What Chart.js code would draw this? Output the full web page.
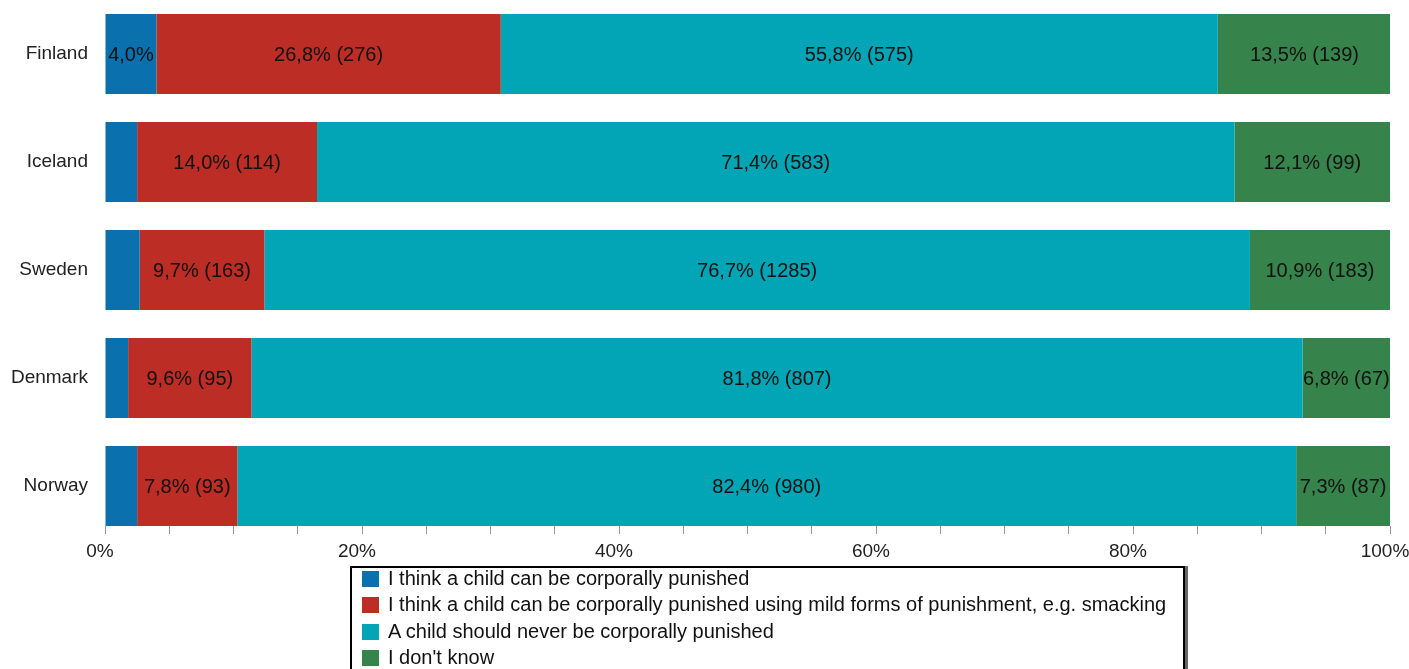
<!DOCTYPE html>
<html>
<head>
<meta charset="utf-8">
<script src="https://cdn.jsdelivr.net/npm/chart.js@4/dist/chart.umd.min.js"></script>
<style>
  body { margin: 0; background: #fff; }
  #wrap { position: relative; width: 1409px; height: 669px; overflow: hidden; }
  #legend {
    position: absolute; left: 350px; top: 566px; width: 835px; height: 120px;
    border: 2px solid #000; box-shadow: 3px 0 0 #666;
    background: #fff; font: 20px "Liberation Sans", Arial, sans-serif; color: #111;
    padding: 0 0 0 10px; box-sizing: border-box;
  }
  #legend div { height: 26.3px; line-height: 20px; white-space: nowrap; }
  #legend span { display: inline-block; width: 17px; height: 16px; margin-right: 9px; vertical-align: -2px; }
</style>
</head>
<body>
<div id="wrap">
  <canvas id="chart" width="1409" height="669"></canvas>
  <div id="legend"></div>
</div>
<script>
const countries = ['Finland', 'Iceland', 'Sweden', 'Denmark', 'Norway'];

// share of answers in %, one array per answer
const canPunish = [4.0, 2.5, 2.7, 1.8, 2.5];
const mildPunish = [26.8, 14.0, 9.7, 9.6, 7.8];
const neverPunish = [55.8, 71.4, 76.7, 81.8, 82.4];
const dontKnow = [13.5, 12.1, 10.9, 6.8, 7.3];

// number of respondents behind each share (null = not printed)
const canPunishN = [null, null, null, null, null];
const mildPunishN = [276, 114, 163, 95, 93];
const neverPunishN = [575, 583, 1285, 807, 980];
const dontKnowN = [139, 99, 183, 67, 87];

const xTicks = [0, 20, 40, 60, 80, 100];

function series(label, values, counts, color) {
    return {
        label: label,
        data: values.map((v, i) => ({ x: v, y: i })),
        counts: counts,
        backgroundColor: color,
        borderWidth: 0,
        barPercentage: 0.74,
        categoryPercentage: 1
    };
}

// prints "26,8% (276)" in the middle of each bar, skips bars that are too narrow
const barText = {
    id: 'barText',
    afterDatasetsDraw(chart) {
        const ctx = chart.ctx;
        ctx.save();
        ctx.font = '20px "Liberation Sans", Arial, sans-serif';
        ctx.fillStyle = '#111';
        ctx.textAlign = 'center';
        ctx.textBaseline = 'middle';
        chart.data.datasets.forEach((ds, di) => {
            chart.getDatasetMeta(di).data.forEach((bar, i) => {
                let text = ds.data[i].x.toFixed(1).replace('.', ',') + '%';
                if (ds.counts[i] != null) text += ' (' + ds.counts[i] + ')';
                let w = Math.abs(bar.x - bar.base);
                if (ctx.measureText(text).width > w + 4) return;
                ctx.fillText(text, (bar.x + bar.base) / 2, bar.y + 1);
            });
        });
        ctx.restore();
    }
};

const chart = new Chart(document.getElementById('chart'), {
    type: 'bar',
    data: {
        datasets: [
            series('I think a child can be corporally punished', canPunish, canPunishN, '#0a70ae'),
            series('I think a child can be corporally punished using mild forms of punishment, e.g. smacking', mildPunish, mildPunishN, '#bc2d25'),
            series('A child should never be corporally punished', neverPunish, neverPunishN, '#02a5b5'),
            series("I don't know", dontKnow, dontKnowN, '#36834b')
        ]
    },
    options: {
        indexAxis: 'y',
        responsive: false,
        animation: false,
        layout: { padding: { top: 0, right: 19, bottom: 0, left: 0 } },
        plugins: { legend: { display: false }, tooltip: { enabled: false } },
        scales: {
            x: {
                type: 'linear', stacked: true, min: 0, max: 100,
                ticks: {
                    stepSize: 5, autoSkip: false, maxRotation: 0, labelOffset: -5,
                    callback: v => xTicks.includes(v) ? v + '%' : '',
                    color: '#222', padding: 6,
                    font: { family: '"Liberation Sans", Arial, sans-serif', size: 19 }
                },
                grid: { drawOnChartArea: false, tickLength: 8, color: '#999' },
                border: { display: false },
                afterFit: s => { s.height = 143; s.paddingLeft = 0; s.paddingRight = 0; }
            },
            y: {
                type: 'linear', stacked: true, reverse: true, offset: false,
                min: -0.5, max: 4.37,
                afterBuildTicks: s => { s.ticks = countries.map((c, i) => ({ value: i })); },
                ticks: {
                    callback: v => countries[v],
                    color: '#222', padding: 17,
                    font: { family: '"Liberation Sans", Arial, sans-serif', size: 19 }
                },
                grid: { display: false, drawTicks: false, offset: false },
                border: { display: false },
                afterFit: s => { s.width = 105; s.paddingTop = 0; s.paddingBottom = 0; }
            }
        }
    },
    plugins: [barText]
});

// legend as a framed list under the chart
const legend = document.getElementById('legend');
chart.data.datasets.forEach(ds => {
    const row = document.createElement('div');
    const box = document.createElement('span');
    box.style.background = ds.backgroundColor;
    row.appendChild(box);
    row.appendChild(document.createTextNode(ds.label));
    legend.appendChild(row);
});
</script>
</body>
</html>
